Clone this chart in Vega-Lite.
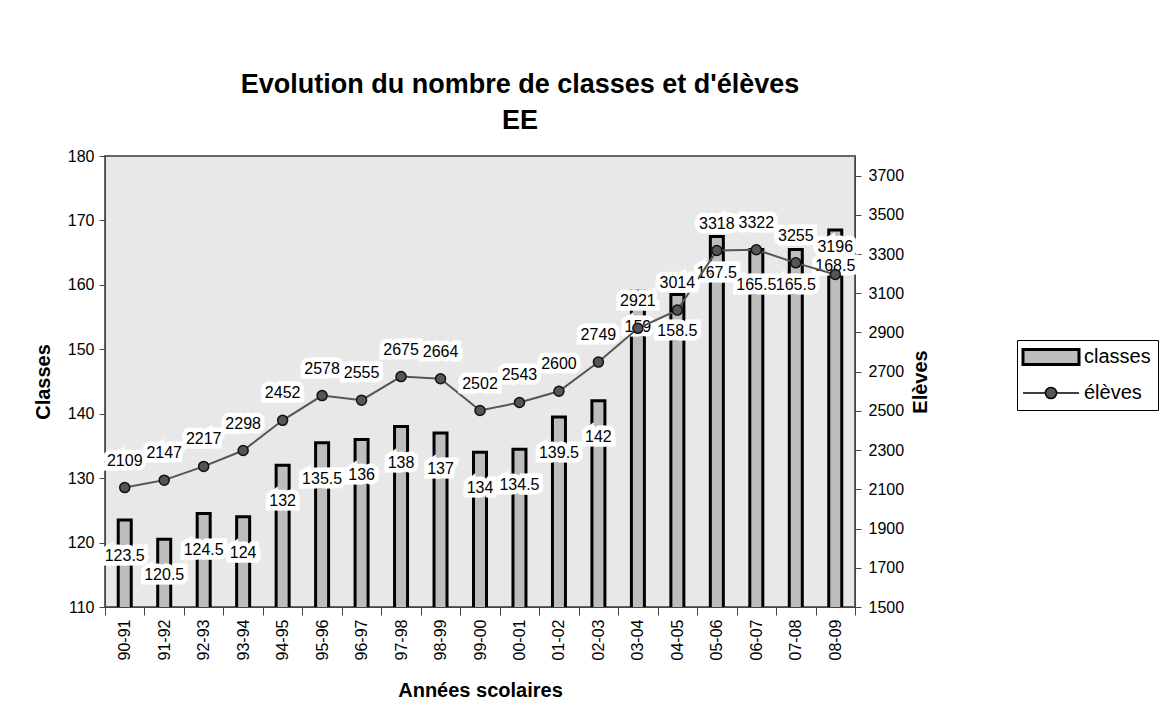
{
  "$schema": "https://vega.github.io/schema/vega-lite/v6.json",
  "autosize": "none",
  "width": 750,
  "height": 451,
  "padding": {"left": 105, "top": 156, "right": 308, "bottom": 115},
  "background": "white",
  "config": {
    "font": "Liberation Sans",
    "view": {"fill": "#e8e8e8", "stroke": "#666666", "strokeWidth": 2},
    "axis": {"labelFont": "Liberation Sans", "titleFont": "Liberation Sans", "labelFontSize": 16, "titleFontSize": 20, "titleFontWeight": "bold", "labelColor": "#000", "titleColor": "#000", "domainColor": "#444", "tickColor": "#444", "grid": false}
  },
  "title": {
    "text": ["Evolution du nombre de classes et d'élèves", "EE"],
    "font": "Liberation Sans",
    "fontSize": 27,
    "fontWeight": "bold",
    "color": "#000",
    "lineHeight": 36,
    "anchor": "middle",
    "dx": 40,
    "offset": 13
  },
  "data": {
    "values": [
      {"annee": "90-91", "classes": 123.5, "eleves": 2109},
      {"annee": "91-92", "classes": 120.5, "eleves": 2147},
      {"annee": "92-93", "classes": 124.5, "eleves": 2217},
      {"annee": "93-94", "classes": 124, "eleves": 2298},
      {"annee": "94-95", "classes": 132, "eleves": 2452},
      {"annee": "95-96", "classes": 135.5, "eleves": 2578},
      {"annee": "96-97", "classes": 136, "eleves": 2555},
      {"annee": "97-98", "classes": 138, "eleves": 2675},
      {"annee": "98-99", "classes": 137, "eleves": 2664},
      {"annee": "99-00", "classes": 134, "eleves": 2502},
      {"annee": "00-01", "classes": 134.5, "eleves": 2543},
      {"annee": "01-02", "classes": 139.5, "eleves": 2600},
      {"annee": "02-03", "classes": 142, "eleves": 2749},
      {"annee": "03-04", "classes": 159, "eleves": 2921},
      {"annee": "04-05", "classes": 158.5, "eleves": 3014},
      {"annee": "05-06", "classes": 167.5, "eleves": 3318},
      {"annee": "06-07", "classes": 165.5, "eleves": 3322},
      {"annee": "07-08", "classes": 165.5, "eleves": 3255},
      {"annee": "08-09", "classes": 168.5, "eleves": 3196}
    ]
  },
  "encoding": {
    "x": {
      "field": "annee", "type": "nominal", "sort": null,
      "scale": {"paddingInner": 0, "paddingOuter": 0},
      "axis": {"title": "Années scolaires", "labelAngle": 270, "labelAlign": "right", "labelBaseline": "middle", "tickBand": "extent", "tickSize": 8, "labelPadding": 4, "titlePadding": 21, "domainColor": "#444"}
    }
  },
  "layer": [
    {
      "encoding": {
        "y": {"field": "classes", "type": "quantitative", "scale": {"domain": [110, 180], "nice": false, "zero": false},
          "axis": {"title": "Classes", "orient": "left", "values": [110, 120, 130, 140, 150, 160, 170, 180], "format": "d", "tickSize": 6, "labelPadding": 5, "titlePadding": 14}}
      },
      "layer": [
        {
          "mark": {"type": "bar", "size": 13, "stroke": "#000", "strokeWidth": 3, "clip": true},
          "encoding": {
            "fill": {"datum": "classes", "type": "nominal",
              "scale": {"domain": ["classes", "élèves"], "range": ["#bdbdbd", "#555555"]},
              "legend": {
                "orient": "none", "legendX": 912, "legendY": 184, "title": null,
                "strokeColor": "#000", "padding": 7, "symbolSize": 3136,
                "symbolType": "M-1,-0.27H1V0.27H-1Z", "labelFont": "Liberation Sans", "labelFontSize": 20, "labelColor": "#000",
                "rowPadding": 12, "labelOffset": 23, "symbolOffset": 17, "symbolStrokeColor": "#000",
                "encode": {"symbols": {"update": {
                  "shape": {"signal": "datum.value === 'classes' ? 'M-1,-0.27H1V0.27H-1Z' : 'M-1,0H-0.2M0.2,0H1M0.2,0A0.2,0.2,0,1,1,-0.2,0A0.2,0.2,0,1,1,0.2,0'"},
                  "stroke": {"value": "#000"},
                  "strokeWidth": {"signal": "datum.value === 'classes' ? 3 : 1.5"},
                  "opacity": {"value": 1}
                }}}
              }}
          }
        },
        {
          "mark": {"type": "text", "fontSize": 16, "font": "Liberation Sans", "dy": 36, "stroke": "white", "strokeWidth": 9, "strokeJoin": "miter", "fill": "white"},
          "encoding": {"text": {"field": "classes", "type": "quantitative"}}
        },
        {
          "mark": {"type": "text", "fontSize": 16, "font": "Liberation Sans", "dy": 36, "fill": "#000"},
          "encoding": {"text": {"field": "classes", "type": "quantitative"}}
        }
      ]
    },
    {
      "encoding": {
        "y": {"field": "eleves", "type": "quantitative", "scale": {"domain": [1500, 3800], "nice": false, "zero": false},
          "axis": {"title": "Elèves", "orient": "right", "values": [1500, 1700, 1900, 2100, 2300, 2500, 2700, 2900, 3100, 3300, 3500, 3700], "format": "d", "tickSize": 6, "labelPadding": 7, "titlePadding": 27, "titleAngle": 270}}
      },
      "layer": [
        {
          "mark": {"type": "line", "color": "#555555", "strokeWidth": 2},
          "encoding": {}
        },
        {
          "mark": {"type": "point", "filled": true, "shape": "circle", "size": 100, "stroke": "#111", "strokeWidth": 1.5, "opacity": 1},
          "encoding": {"fill": {"datum": "élèves", "type": "nominal"}}
        },
        {
          "mark": {"type": "text", "fontSize": 16, "font": "Liberation Sans", "dy": -27, "stroke": "white", "strokeWidth": 9, "strokeJoin": "miter", "fill": "white"},
          "encoding": {"text": {"field": "eleves", "type": "quantitative", "format": "d"}}
        },
        {
          "mark": {"type": "text", "fontSize": 16, "font": "Liberation Sans", "dy": -27, "fill": "#000"},
          "encoding": {"text": {"field": "eleves", "type": "quantitative", "format": "d"}}
        }
      ]
    }
  ],
  "resolve": {"scale": {"y": "independent"}}
}
